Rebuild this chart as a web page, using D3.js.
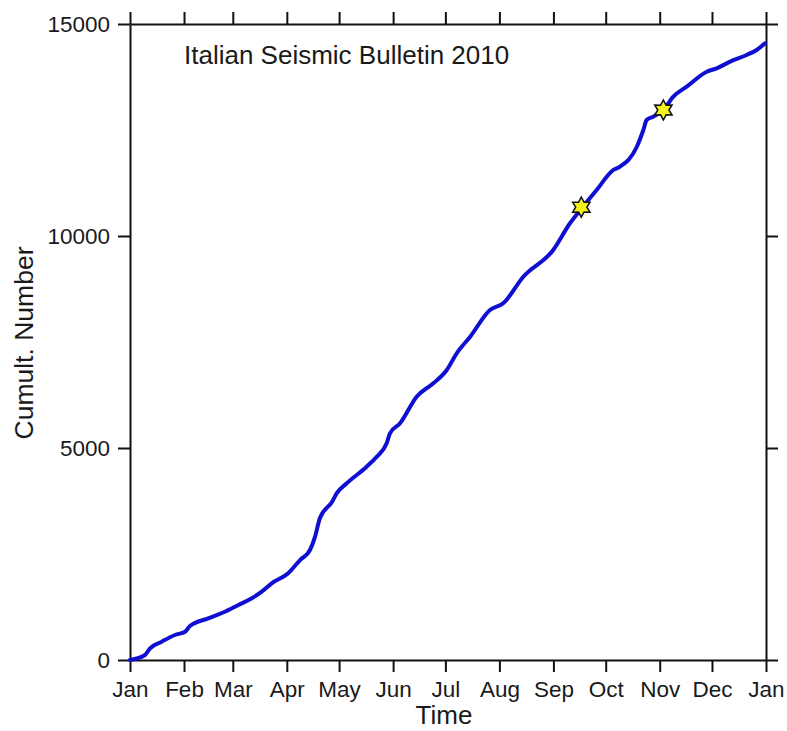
<!DOCTYPE html>
<html>
<head>
<meta charset="utf-8">
<script src="https://cdn.jsdelivr.net/npm/d3@7"></script>
<style>
  html, body { margin: 0; padding: 0; background: #fff; }
  svg { display: block; font-family: "Liberation Sans", Arial, Helvetica, sans-serif; }
</style>
</head>
<body>
<svg id="chart" width="787" height="731"></svg>
<script>
// ---- data (day of year 2010, cumulative number of events) ----
const days = [0, 8.6, 11.5, 18.2, 25.8, 31.6, 34.4, 44.9, 54.5, 62.2, 69.9, 75.6, 81.3, 90.8,
  97.6, 103.3, 106.2, 109.0, 115.9, 118.6, 124.4, 135.8, 141.6, 147.3, 149.2, 155.0, 164.5,
  174.1, 181.8, 187.5, 195.1, 206.6, 214.2, 225.7, 242.9, 252.5, 259.2, 267.8, 277.4, 281.2,
  290.8, 294.6, 296.5, 300.3, 306.1, 311.8, 319.5, 331.0, 336.7, 344.4, 353.9, 359.6, 364.4];
const cumulative = [0, 118, 276, 432, 590, 667, 802, 983, 1139, 1297, 1455, 1611, 1809, 2045,
  2358, 2594, 2908, 3349, 3727, 3931, 4167, 4559, 4795, 5111, 5347, 5583, 6210,
  6526, 6840, 7233, 7618, 8255, 8413, 9040, 9670, 10300, 10653, 11085, 11557, 11635,
  12099, 12500, 12736, 12814, 12972, 13286, 13522, 13875, 13955, 14111, 14269, 14387, 14545];
const starDays = [259, 306.1];
const starValues = [10680, 12972];
const yTicks = [0, 5000, 10000, 15000];
const title = "Italian Seismic Bulletin 2010";
const xLabel = "Time";
const yLabel = "Cumult. Number";

// ---- layout ----
const svg = d3.select("#chart");
const L = 130, R = 766, T = 24, B = 660;
const start = Date.UTC(2010, 0, 1), end = Date.UTC(2011, 0, 1);
const toDate = d => new Date(start + d * 86400000);

const x = d3.scaleUtc().domain([new Date(start), new Date(end)]).range([L, R]);
const y = d3.scaleLinear().domain([0, 15000]).range([B, T]);

const months = d3.utcMonth.range(new Date(start), new Date(end + 1));
const fmt = d3.utcFormat("%b");

function styleAxis(g) {
  g.selectAll("path.domain").attr("stroke", "#111").attr("stroke-width", 2);
  g.selectAll(".tick line").attr("stroke", "#111").attr("stroke-width", 2);
  g.selectAll(".tick text").attr("fill", "#1a1a1a").style("font-size", "22.5px");
}

svg.append("g").attr("transform", `translate(0,${B})`)
  .call(d3.axisBottom(x).tickValues(months).tickFormat(fmt).tickSize(12).tickSizeOuter(0).tickPadding(9))
  .call(styleAxis).call(g => g.attr("font-family", null));
svg.append("g").attr("transform", `translate(0,${T})`)
  .call(d3.axisTop(x).tickValues(months).tickFormat("").tickSize(12).tickSizeOuter(0))
  .call(styleAxis);
svg.append("g").attr("transform", `translate(${L},0)`)
  .call(d3.axisLeft(y).tickValues(yTicks).tickFormat(d3.format("d")).tickSize(12).tickSizeOuter(0).tickPadding(8))
  .call(styleAxis).call(g => g.attr("font-family", null));
svg.append("g").attr("transform", `translate(${R},0)`)
  .call(d3.axisRight(y).tickValues(yTicks).tickFormat("").tickSize(12).tickSizeOuter(0))
  .call(styleAxis);

// ---- curve ----
const pts = days.map((d, i) => [toDate(d), cumulative[i]]);
svg.append("path")
  .datum(pts)
  .attr("fill", "none")
  .attr("stroke", "#0f0fd2")
  .attr("stroke-width", 4)
  .attr("stroke-linejoin", "round")
  .attr("stroke-linecap", "round")
  .attr("d", d3.line().x(p => x(p[0])).y(p => y(p[1])).curve(d3.curveMonotoneX));

// ---- stars (six-pointed) ----
function hexagram(ro, ri) {
  const p = [];
  for (let k = 0; k < 12; k++) {
    const a = -Math.PI / 2 + k * Math.PI / 6;
    const r = k % 2 === 0 ? ro : ri;
    p.push([r * Math.cos(a), r * Math.sin(a)]);
  }
  return "M" + p.map(q => q.join(",")).join("L") + "Z";
}
svg.selectAll("path.star")
  .data(starDays.map((d, i) => [toDate(d), starValues[i]]))
  .join("path")
  .attr("class", "star")
  .attr("transform", p => `translate(${x(p[0])},${y(p[1])})`)
  .attr("d", hexagram(10, 5.6))
  .attr("fill", "#f5f020")
  .attr("stroke", "#111")
  .attr("stroke-width", 1.5)
  .attr("stroke-linejoin", "miter");

// ---- texts ----
svg.append("text").attr("x", 184).attr("y", 64)
  .style("font-size", "26px").attr("fill", "#1a1a1a").text(title);
svg.append("text").attr("x", (L + R) / 2 - 4).attr("y", 724)
  .attr("text-anchor", "middle").style("font-size", "26px").attr("fill", "#1a1a1a").text(xLabel);
svg.append("text")
  .attr("transform", `translate(33,${(T + B) / 2 + 1}) rotate(-90)`)
  .attr("text-anchor", "middle").style("font-size", "26.5px").attr("fill", "#1a1a1a").text(yLabel);
</script>
</body>
</html>
